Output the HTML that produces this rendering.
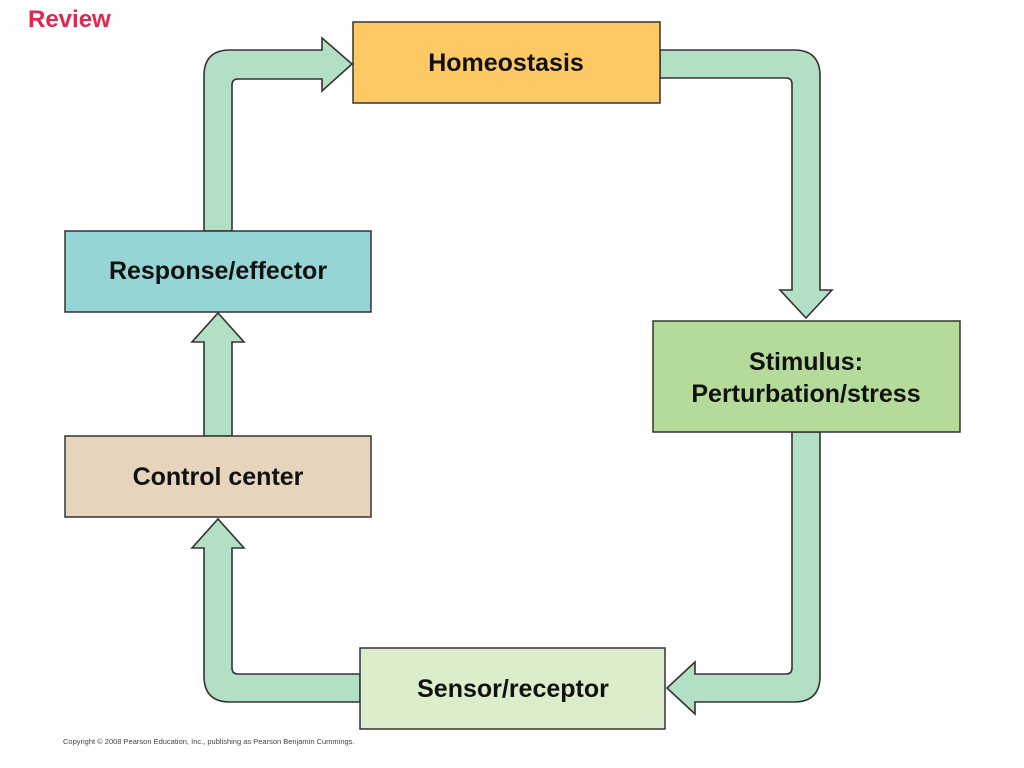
<!DOCTYPE html>
<html><head><meta charset="utf-8"><style>
html,body{margin:0;padding:0;background:#fff;width:1024px;height:768px;overflow:hidden}
svg{display:block}
text{font-family:"Liberation Sans",Arial,sans-serif}
</style></head><body>
<svg width="1024" height="768" viewBox="0 0 1024 768" xmlns="http://www.w3.org/2000/svg">
<text x="28" y="27" font-size="24" font-weight="bold" fill="#e0284f">Review</text>
<g fill="#b3dfc5" stroke="#333" stroke-width="1.6" stroke-linejoin="miter">
<!-- top-left arrow -->
<path d="M204,231 L204,76 Q204,50 230,50 L322,50 L322,38 L352,64 L322,91 L322,79 L238,79 Q232,79 232,85 L232,231 Z"/>
<!-- top-right arrow -->
<path d="M660,50 L794,50 Q820,50 820,76 L820,290 L832,290 L806,318 L780,290 L792,290 L792,84 Q792,78 786,78 L660,78 Z"/>
<!-- bottom-right arrow -->
<path d="M820,432 L820,676 Q820,702 794,702 L695,702 L695,714 L667,688 L695,662 L695,674 L786,674 Q792,674 792,668 L792,432 Z"/>
<!-- bottom-left arrow -->
<path d="M360,674 L238,674 Q232,674 232,668 L232,548 L244,548 L218,519 L192,548 L204,548 L204,676 Q204,702 230,702 L360,702 Z"/>
<!-- middle arrow -->
<path d="M204,436 L204,342 L192,342 L218,313 L244,342 L232,342 L232,436 Z"/>
</g>
<g stroke="#333" stroke-width="1.5">
<rect x="353" y="22" width="307" height="81" fill="#fdc965"/>
<rect x="65" y="231" width="306" height="81" fill="#95d5d6"/>
<rect x="653" y="321" width="307" height="111" fill="#b5db9a"/>
<rect x="65" y="436" width="306" height="81" fill="#e6d4bc"/>
<rect x="360" y="648" width="305" height="81" fill="#dcedcc"/>
</g>
<g font-size="25" font-weight="bold" fill="#111" text-anchor="middle">
<text x="506" y="71">Homeostasis</text>
<text x="218" y="279">Response/effector</text>
<text x="806" y="370">Stimulus:</text>
<text x="806" y="402">Perturbation/stress</text>
<text x="218" y="485">Control center</text>
<text x="513" y="697">Sensor/receptor</text>
</g>
<text x="63" y="744" font-size="7.5" fill="#444">Copyright © 2008 Pearson Education, Inc., publishing as Pearson Benjamin Cummings.</text>
</svg>
</body></html>
